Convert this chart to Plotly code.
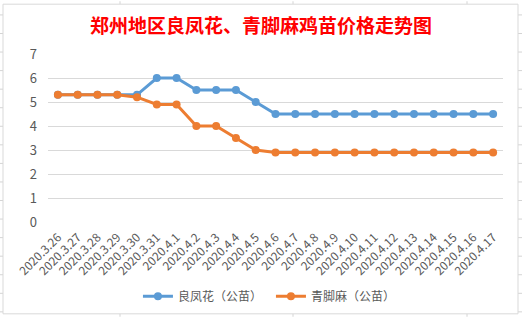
import plotly.graph_objects as go

dates = ["2020.3.26", "2020.3.27", "2020.3.28", "2020.3.29", "2020.3.30", "2020.3.31",
         "2020.4.1", "2020.4.2", "2020.4.3", "2020.4.4", "2020.4.5", "2020.4.6",
         "2020.4.7", "2020.4.8", "2020.4.9", "2020.4.10", "2020.4.11", "2020.4.12",
         "2020.4.13", "2020.4.14", "2020.4.15", "2020.4.16", "2020.4.17"]
liangfenghua = [5.3, 5.3, 5.3, 5.3, 5.3, 6.0, 6.0, 5.5, 5.5, 5.5, 5.0, 4.5,
                4.5, 4.5, 4.5, 4.5, 4.5, 4.5, 4.5, 4.5, 4.5, 4.5, 4.5]
qingjiaoma = [5.3, 5.3, 5.3, 5.3, 5.2, 4.9, 4.9, 4.0, 4.0, 3.5, 3.0, 2.9,
              2.9, 2.9, 2.9, 2.9, 2.9, 2.9, 2.9, 2.9, 2.9, 2.9, 2.9]
series_names = ["良凤花（公苗）", "青脚麻（公苗）"]
title_text = "郑州地区良凤花、青脚麻鸡苗价格走势图"

W, H = 522, 323
L, R, T, B = 48, 19, 54, 97
PW, PH = W - L - R, H - T - B

def px(x):
    return (x - L) / PW

def py(y):
    return (H - B - y) / PH

fig = go.Figure()
fig.add_trace(go.Scatter(x=dates, y=liangfenghua, name=series_names[0], mode="lines+markers",
                         line=dict(color="#5B9BD5", width=3),
                         marker=dict(color="#5B9BD5", size=8)))
fig.add_trace(go.Scatter(x=dates, y=qingjiaoma, name=series_names[1], mode="lines+markers",
                         line=dict(color="#ED7D31", width=3),
                         marker=dict(color="#ED7D31", size=8)))

shapes = []
cell = "#d4d4d4"
# spreadsheet cell lines outside the chart
for yy in range(14, 323, 19):
    shapes.append(dict(type="line", xref="paper", yref="paper", x0=px(0), x1=px(3), y0=py(yy), y1=py(yy),
                       line=dict(color=cell, width=1), layer="below"))
    shapes.append(dict(type="line", xref="paper", yref="paper", x0=px(518), x1=px(522), y0=py(yy), y1=py(yy),
                       line=dict(color=cell, width=1), layer="below"))
for xx in [120, 293, 467]:
    shapes.append(dict(type="line", xref="paper", yref="paper", x0=px(xx), x1=px(xx), y0=py(0), y1=py(3),
                       line=dict(color=cell, width=1), layer="below"))
    shapes.append(dict(type="line", xref="paper", yref="paper", x0=px(xx), x1=px(xx), y0=py(320), y1=py(323),
                       line=dict(color=cell, width=1), layer="below"))
# chart border
shapes.append(dict(type="rect", xref="paper", yref="paper", x0=px(3), x1=px(518), y0=py(3), y1=py(320),
                   line=dict(color="#d9d9d9", width=1), fillcolor="rgba(0,0,0,0)", layer="below"))

fig.update_layout(
    width=W, height=H,
    margin=dict(l=L, r=R, t=T, b=B),
    paper_bgcolor="white", plot_bgcolor="white",
    font=dict(family="Noto Sans CJK SC, sans-serif", color="#595959", size=12),
    title=dict(text="<b>" + title_text + "</b>", x=0.5, xanchor="center", y=1 - 26 / H, yanchor="middle",
               yref="container", font=dict(size=19, color="#FF0000", family="Noto Sans CJK SC")),
    xaxis=dict(type="category", range=[-0.5, len(dates) - 0.5], tickangle=-45, showgrid=False,
               showline=False, zeroline=False, ticks="", tickfont=dict(size=12, color="#595959"),
               ticklabelstandoff=5),
    yaxis=dict(range=[0, 7], dtick=1, showgrid=True, gridcolor="#d9d9d9", gridwidth=1,
               zeroline=False, showline=False, ticks="", tickfont=dict(size=13, color="#595959"),
               ticklabelstandoff=10),
    legend=dict(orientation="h", x=0.49, xanchor="center", y=py(302), yanchor="middle",
                font=dict(size=12, color="#595959"), bgcolor="rgba(0,0,0,0)",
                entrywidth=88, entrywidthmode="pixels"),
    shapes=shapes,
    showlegend=True,
)

fig.write_html("out.html")
